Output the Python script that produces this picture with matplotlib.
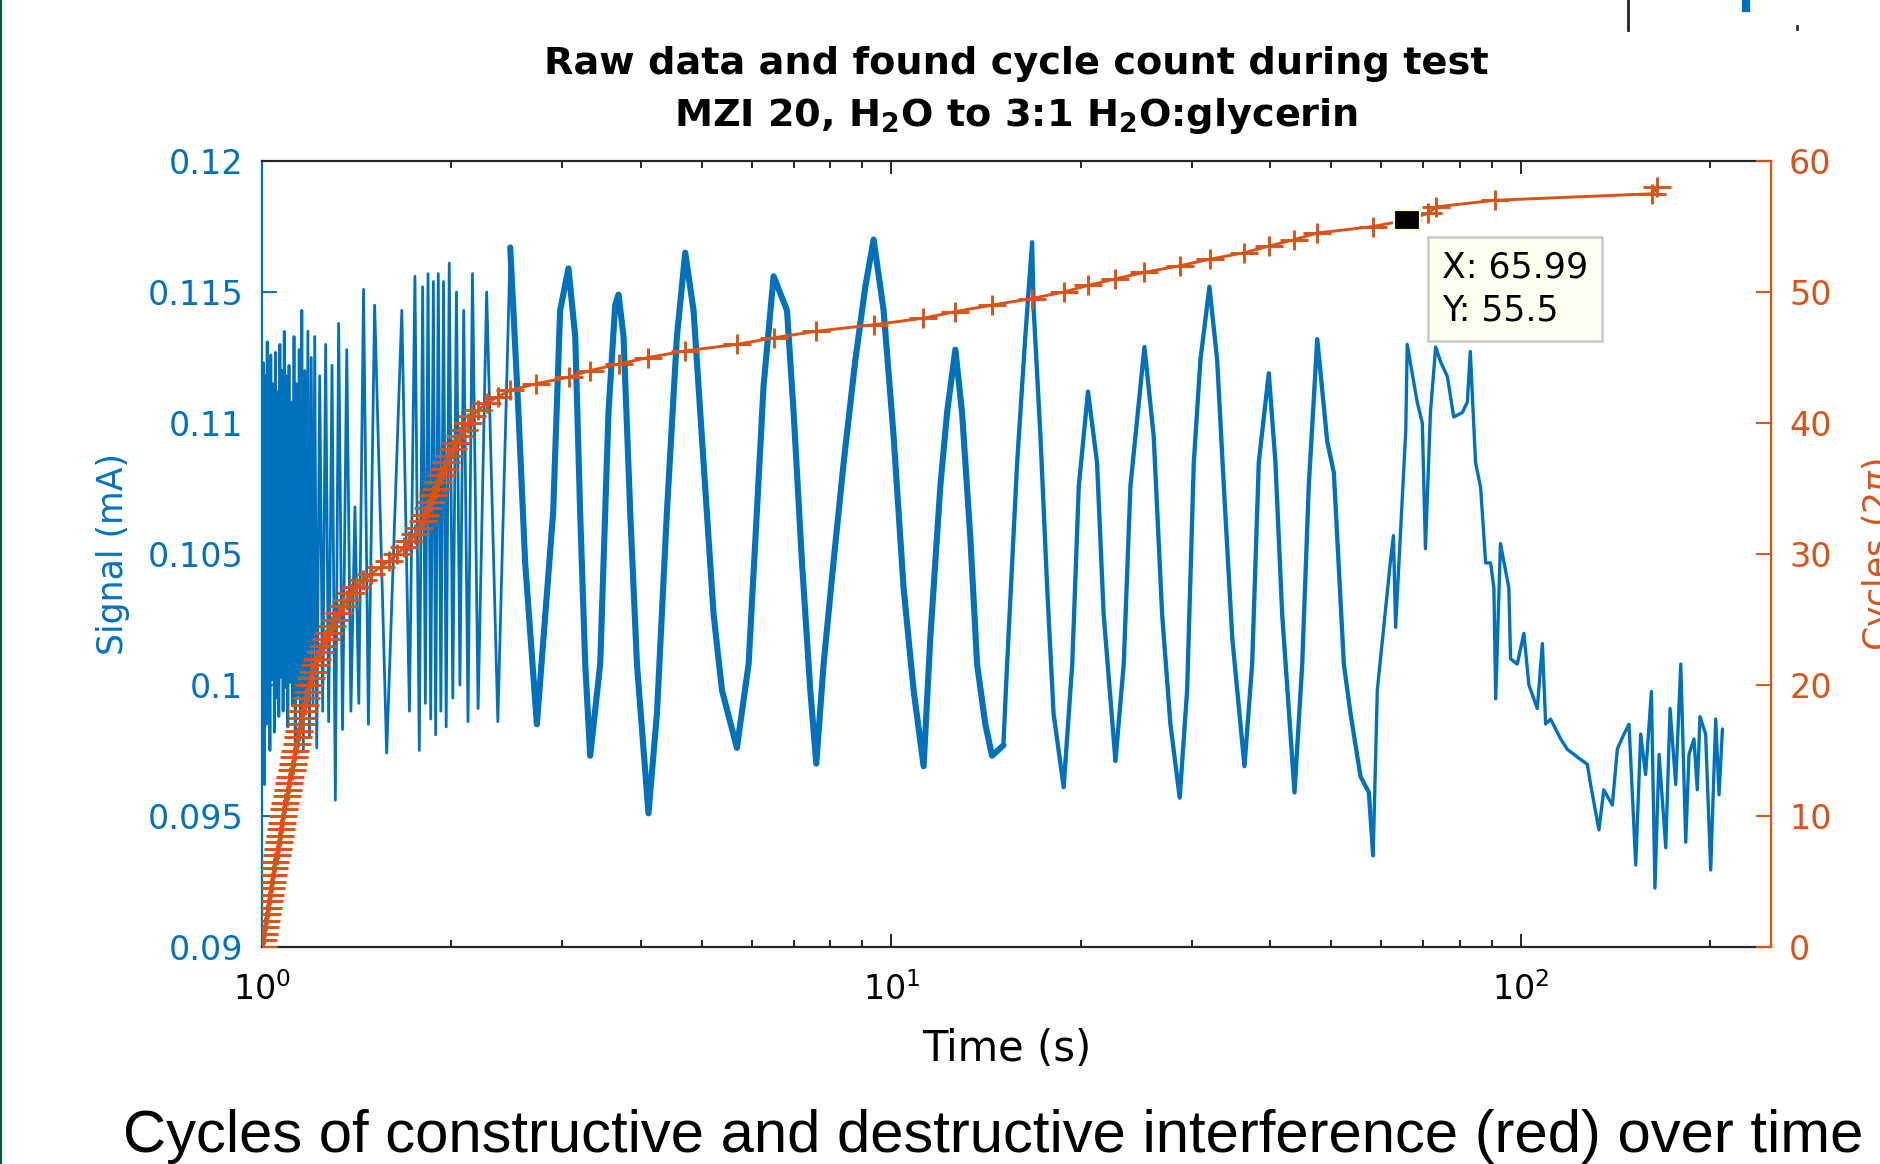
import numpy as np
import matplotlib
matplotlib.use("Agg")
import matplotlib.pyplot as plt
from matplotlib.path import Path
from matplotlib.lines import Line2D
from matplotlib.ticker import FixedLocator, FixedFormatter, NullFormatter

# ------------------------------------------------------------------ data
# red trace: time of every detected half cycle and the running cycle count
cycle_time = [
    1.002, 1.0053, 1.0089, 1.0124, 1.0158, 1.0192, 1.0226, 1.0260, 1.0294, 1.0328,
    1.0371, 1.0416, 1.0461, 1.0506, 1.0551, 1.0593, 1.0635, 1.0677, 1.0719, 1.0760,
    1.0802, 1.0848, 1.0895, 1.0943, 1.0991, 1.1039, 1.1089, 1.1140, 1.1191, 1.1243,
    1.1294, 1.1347, 1.1403, 1.1458, 1.1514, 1.1569, 1.1632, 1.1697, 1.1763, 1.1828,
    1.1896, 1.1973, 1.2051, 1.2128, 1.2217, 1.2352, 1.2487, 1.2622, 1.2762, 1.2920,
    1.3078, 1.3237, 1.3426, 1.3636, 1.3845, 1.413, 1.449, 1.492, 1.543, 1.592,
    1.640, 1.680, 1.715, 1.750, 1.778, 1.800, 1.818, 1.836, 1.854, 1.872,
    1.888, 1.906, 1.924, 1.943, 1.962, 1.984, 2.010, 2.037, 2.063, 2.092,
    2.125, 2.160, 2.205, 2.275, 2.370, 2.48, 2.73, 3.07, 3.32, 3.69,
    4.11, 4.70, 5.68, 6.50, 7.60, 9.37, 11.25, 12.64, 14.45, 16.73,
    18.79, 20.54, 22.7, 25.25, 28.73, 32.04, 36.4, 39.8, 43.7, 47.5,
    58.3, 65.99, 71.2, 73.5, 91.0, 162.0, 165.0,
]
cycle_count = [
    0, 0.5, 1, 1.5, 2, 2.5, 3, 3.5, 4, 4.5,
    5, 5.5, 6, 6.5, 7, 7.5, 8, 8.5, 9, 9.5,
    10, 10.5, 11, 11.5, 12, 12.5, 13, 13.5, 14, 14.5,
    15, 15.5, 16, 16.5, 17, 17.5, 18, 18.5, 19, 19.5,
    20, 20.5, 21, 21.5, 22, 22.5, 23, 23.5, 24, 24.5,
    25, 25.5, 26, 26.5, 27, 27.5, 28, 28.5, 29, 29.5,
    30, 30.5, 31, 31.5, 32, 32.5, 33, 33.5, 34, 34.5,
    35, 35.5, 36, 36.5, 37, 37.5, 38, 38.5, 39, 39.5,
    40, 40.5, 41, 41.5, 42, 42.5, 43, 43.5, 44, 44.5,
    45, 45.5, 46, 46.5, 47, 47.5, 48, 48.5, 49, 49.5,
    50, 50.5, 51, 51.5, 52, 52.5, 53, 53.5, 54, 54.5,
    55, 55.5, 56, 56.5, 57, 57.5, 58,
]

# blue trace, fast fringes at the start (turning points)
dense_time = [
    1.000,
    1.002, 1.0053, 1.0089, 1.0124, 1.0158, 1.0192, 1.0226, 1.0260, 1.0294, 1.0328,
    1.0371, 1.0416, 1.0461, 1.0506, 1.0551, 1.0593, 1.0635, 1.0677, 1.0719, 1.0760,
    1.0802, 1.0848, 1.0895, 1.0943, 1.0991, 1.1039, 1.1089, 1.1140, 1.1191, 1.1243,
    1.1294, 1.1347, 1.1403, 1.1458, 1.1514, 1.1569, 1.1632, 1.1697, 1.1763, 1.1828,
    1.1896, 1.1973, 1.2051, 1.2128, 1.2217, 1.2352, 1.2487, 1.2622, 1.2762, 1.2920,
    1.3078, 1.3237, 1.3426, 1.3636, 1.3845,
    1.405, 1.425, 1.450, 1.476, 1.510, 1.578, 1.668,
    1.715, 1.750, 1.778, 1.800, 1.818, 1.836, 1.854, 1.872,
    1.888, 1.906, 1.924, 1.943, 1.962, 1.984, 2.010, 2.037, 2.063, 2.092,
    2.125, 2.160, 2.205, 2.275, 2.370,
]
dense_value = [
    0.1050,
    0.0990, 0.1123, 0.0962, 0.1118, 0.0985, 0.1131, 0.0997, 0.1110, 0.0975, 0.1126,
    0.1002, 0.1115, 0.0982, 0.1127, 0.0995, 0.1112, 0.0988, 0.1130, 0.1003, 0.1120,
    0.0990, 0.1135, 0.0999, 0.1118, 0.0984, 0.1122, 0.1001, 0.1108, 0.0992, 0.1133,
    0.0978, 0.1115, 0.0996, 0.1128, 0.0985, 0.1143, 0.0975, 0.1120, 0.0998, 0.1135,
    0.0980, 0.1125, 0.0993, 0.1133, 0.0976, 0.1118, 0.0990, 0.1130, 0.0986, 0.1122,
    0.0956, 0.1138, 0.0983, 0.1128, 0.0990,
    0.1068, 0.0993, 0.1151, 0.0985, 0.1145, 0.0974, 0.1143,
    0.0990, 0.1156, 0.0975, 0.1152, 0.0993, 0.1157, 0.0987, 0.1154,
    0.0981, 0.1157, 0.0990, 0.1154, 0.0984, 0.1161, 0.0995, 0.1150, 0.1000, 0.1143,
    0.0986, 0.1157, 0.0991, 0.1150, 0.0986,
]
# blue trace, slow fringes (read along each wave)
slow_time = [
    2.480, 2.556, 2.619, 2.734, 2.902, 2.977, 3.069, 3.146, 3.203, 3.263,
    3.323, 3.447, 3.553, 3.641, 3.686, 3.754, 3.847, 3.943, 4.113, 4.242,
    4.400, 4.564, 4.705, 4.850, 5.031, 5.219, 5.382, 5.684, 5.933, 6.115,
    6.266, 6.501, 6.828, 6.995, 7.212, 7.435, 7.600, 7.806, 8.095, 8.402,
    8.767, 9.093, 9.374, 9.723, 10.085, 10.461, 10.851, 11.256, 11.535, 11.967,
    12.265, 12.641, 12.956, 13.356, 13.687, 14.108, 14.459, 15.07, 15.277, 15.85,
    16.33, 16.74, 16.84, 17.26, 17.69, 18.11, 18.79, 19.39, 19.86, 20.54,
    21.23, 21.75, 22.71, 23.41, 23.99, 25.25, 26.12, 26.94, 27.77, 28.73,
    29.52, 30.25, 30.99, 32.03, 32.95, 33.76, 34.82, 36.41, 37.45, 38.37,
    39.80, 40.78, 41.80, 43.73, 44.98, 46.07, 47.52, 49.29, 50.50, 52.38,
    53.68, 55.68, 57.40, 58.31,
]
slow_value = [
    0.1167, 0.1104, 0.1047, 0.0985, 0.1066, 0.1143, 0.1159, 0.1133, 0.1066, 0.1008,
    0.0973, 0.1008, 0.1104, 0.1145, 0.1149, 0.1133, 0.1066, 0.1008, 0.0951, 0.0989,
    0.1066, 0.1133, 0.1165, 0.1143, 0.1085, 0.1027, 0.0998, 0.0976, 0.1008, 0.1066,
    0.1114, 0.1156, 0.1143, 0.1104, 0.1047, 0.0998, 0.0970, 0.1008, 0.1047, 0.1085,
    0.1124, 0.1152, 0.1170, 0.1143, 0.1095, 0.1037, 0.0998, 0.0969, 0.1018, 0.1076,
    0.1104, 0.1128, 0.1104, 0.1056, 0.1008, 0.0985, 0.0973, 0.0977, 0.1008, 0.1085,
    0.1133, 0.1169, 0.1143, 0.1095, 0.1037, 0.0989, 0.0961, 0.1008, 0.1076, 0.1112,
    0.1085, 0.1027, 0.0971, 0.1008, 0.1076, 0.1129, 0.1095, 0.1027, 0.0985, 0.0957,
    0.0998, 0.1085, 0.1124, 0.1152, 0.1124, 0.1076, 0.1018, 0.0969, 0.1008, 0.1085,
    0.1119, 0.1085, 0.1027, 0.0959, 0.1008, 0.1076, 0.1132, 0.1093, 0.1081, 0.1008,
    0.0989, 0.0965, 0.0959, 0.0935,
]
# last part of the record
tail_time = [
    59.2, 62.1, 62.8, 63.3, 65.7, 66.05, 68.5, 69.8, 70.6, 71.9,
    73.3, 74.6, 76.5, 78.3, 80.8, 82.3, 83.2, 84.8, 86.4, 88.0,
    89.6, 90.7, 91.3, 92.9, 95.8, 96.4, 98.8, 101.2, 103.1, 106.3,
    108.3, 109.6, 111.6, 115.8, 118.7, 123.1, 127.7, 129.2, 133.2, 135.6,
    139.9, 142.5, 146.0, 148.7, 152.4, 155.2, 158.0, 161.4, 163.5, 166.0,
    170.1, 172.8, 176.4, 179.7, 183.0, 185.2, 188.6, 190.9, 192.8, 196.8,
    200.5, 204.2, 206.7, 209.3,
]
tail_value = [
    0.0998, 0.1047, 0.1057, 0.1022, 0.1097, 0.1130, 0.1108, 0.1100, 0.1052, 0.1104,
    0.1129, 0.11235, 0.11177, 0.11023, 0.1104, 0.1108, 0.11273, 0.1085, 0.10754, 0.10466,
    0.10466, 0.1037, 0.09947, 0.1054, 0.1037, 0.1010, 0.1008, 0.10197, 0.1000, 0.0991,
    0.10158, 0.09851, 0.0987, 0.09794, 0.09754, 0.09725, 0.09697, 0.0962, 0.09447, 0.0960,
    0.09542, 0.09756, 0.09813, 0.0985, 0.09313, 0.09813, 0.09658, 0.09975, 0.09225, 0.09735,
    0.09379, 0.0991, 0.0962, 0.1008, 0.0940, 0.09735, 0.09794, 0.0960, 0.09879, 0.09813,
    0.09294, 0.0987, 0.09581, 0.09832,
]

datatip_x = 65.99
datatip_y = 55.5

left_ticks = [0.09, 0.095, 0.1, 0.105, 0.11, 0.115, 0.12]
left_tick_labels = ["0.09", "0.095", "0.1", "0.105", "0.11", "0.115", "0.12"]
right_ticks = [0, 10, 20, 30, 40, 50, 60]
right_tick_labels = ["0", "10", "20", "30", "40", "50", "60"]

title_line1 = "Raw data and found cycle count during test"
title_line2 = r"MZI 20, H$_\mathbf{2}$O to 3:1 H$_\mathbf{2}$O:glycerin"
caption = "Cycles of constructive and destructive interference (red) over time"

# ------------------------------------------------------------------ style
BLUE = "#0072BD"
RED = "#D95319"
DARK = "#262626"
W, H = 1881, 1164

fig = plt.figure(figsize=(W / 100, H / 100), dpi=100)
fig.patch.set_facecolor("white")
ax = fig.add_axes([262 / W, 1 - 947 / H, 1509 / W, 786 / H])
ax.set_xscale("log")

st = np.array(dense_time + slow_time + tail_time)
sv = np.array(dense_value + slow_value + tail_value)
segments = [(0.99, 2.48, 2.0), (2.48, 15.1, 4.4), (15.0, 58.31, 3.1), (58.3, 1000, 2.4)]
for lo, hi, lw in segments:
    m = (st >= lo) & (st <= hi)
    ax.plot(st[m], sv[m], color=BLUE, lw=lw, solid_joinstyle="round",
            solid_capstyle="round", zorder=2)

ax.set_xlim(1, 250)
ax.set_ylim(0.09, 0.12)
ax.yaxis.set_major_locator(FixedLocator(left_ticks))
ax.yaxis.set_major_formatter(FixedFormatter(left_tick_labels))
ax.xaxis.set_minor_formatter(NullFormatter())

for side in ("top", "bottom"):
    ax.spines[side].set_color(DARK)
    ax.spines[side].set_linewidth(1.6)
ax.spines["left"].set_color(BLUE)
ax.spines["left"].set_linewidth(1.6)
ax.spines["right"].set_visible(False)

ax.tick_params(axis="y", which="both", colors=BLUE, direction="in", length=11,
               width=1.4, labelsize=24, pad=13.5, right=False)
ax.tick_params(axis="x", which="both", direction="in", top=True, bottom=True,
               color=DARK, labelcolor="black", width=1.4)
ax.tick_params(axis="x", which="major", length=9.4, labelsize=24, pad=18)
ax.tick_params(axis="x", which="minor", length=5)

ax.set_xlabel("Time (s)", fontsize=30, color="black")
ax.xaxis.set_label_coords(0.4937, -0.103)
ax.set_ylabel("Signal (mA)", fontsize=25, color=BLUE)
ax.yaxis.set_label_coords(-0.0875, 0.5)

# right axis: cycle count
ax2 = ax.twinx()
plus = Path([(-1.35, 0), (1.35, 0), (0, -1), (0, 1)],
            [Path.MOVETO, Path.LINETO, Path.MOVETO, Path.LINETO])
ax2.plot(cycle_time, cycle_count, color=RED, lw=2.1, marker=plus, ms=20,
         mew=2.1, mfc="none", mec=RED, zorder=3)
ax2.set_ylim(0, 60)
ax2.yaxis.set_major_locator(FixedLocator(right_ticks))
ax2.yaxis.set_major_formatter(FixedFormatter(right_tick_labels))
ax2.spines["right"].set_color(RED)
ax2.spines["right"].set_linewidth(1.6)
for side in ("left", "top", "bottom"):
    ax2.spines[side].set_visible(False)
ax2.tick_params(axis="y", colors=RED, direction="in", length=11, width=1.4,
                labelsize=24, pad=13)
ax2.set_ylabel("Cycles (2$\\pi$)", fontsize=25, color=RED)
ax2.yaxis.set_label_coords(1.059, 0.5)

# data tip
rect = Path([(-1.35, -1), (1.35, -1), (1.35, 1), (-1.35, 1), (-1.35, -1)],
            [Path.MOVETO, Path.LINETO, Path.LINETO, Path.LINETO, Path.CLOSEPOLY])
ax2.plot([datatip_x], [datatip_y], marker=rect, ms=18.7, color="black",
         mfc="black", mec="#fbfbd8", mew=1.6, ls="none", zorder=10)
ax2.annotate(f"X: {datatip_x:.2f}\nY: {datatip_y:.1f}", xy=(datatip_x, datatip_y),
             xytext=(25.2, -22.3), textcoords="offset points", ha="left", va="top",
             fontsize=25, linespacing=1.3, color="black", zorder=11,
             bbox=dict(boxstyle="square,pad=0.4", fc="#ffffee", ec="#c8c8c8", lw=1.8))

# titles and caption
fig.text(1016.5 / W, 1 - 74 / H, title_line1, ha="center", va="baseline",
         fontsize=27.5, fontweight="bold")
fig.text(1016.5 / W, 1 - 126 / H, title_line2, ha="center", va="baseline",
         fontsize=27.5, fontweight="bold")
fig.text(993 / W, 1 - 1152 / H, caption, ha="center", va="baseline",
         fontsize=43, family="Liberation Sans", color="black")

# slide decorations around the pasted figure
fig.add_artist(Line2D([1 / W, 1 / W], [0, 1], transform=fig.transFigure,
                      color="#0d5e3a", lw=1.5))
fig.add_artist(Line2D([1628 / W, 1628 / W], [1, 1 - 30 / H], transform=fig.transFigure,
                      color="#222222", lw=2.0))
fig.add_artist(Line2D([1746 / W, 1746 / W], [1, 1 - 8 / H], transform=fig.transFigure,
                      color=BLUE, lw=6))
fig.add_artist(Line2D([1797 / W, 1797 / W], [1 - 26 / H, 1 - 29 / H],
                      transform=fig.transFigure, color="#333333", lw=2))

fig.savefig("out.png", dpi=100)
